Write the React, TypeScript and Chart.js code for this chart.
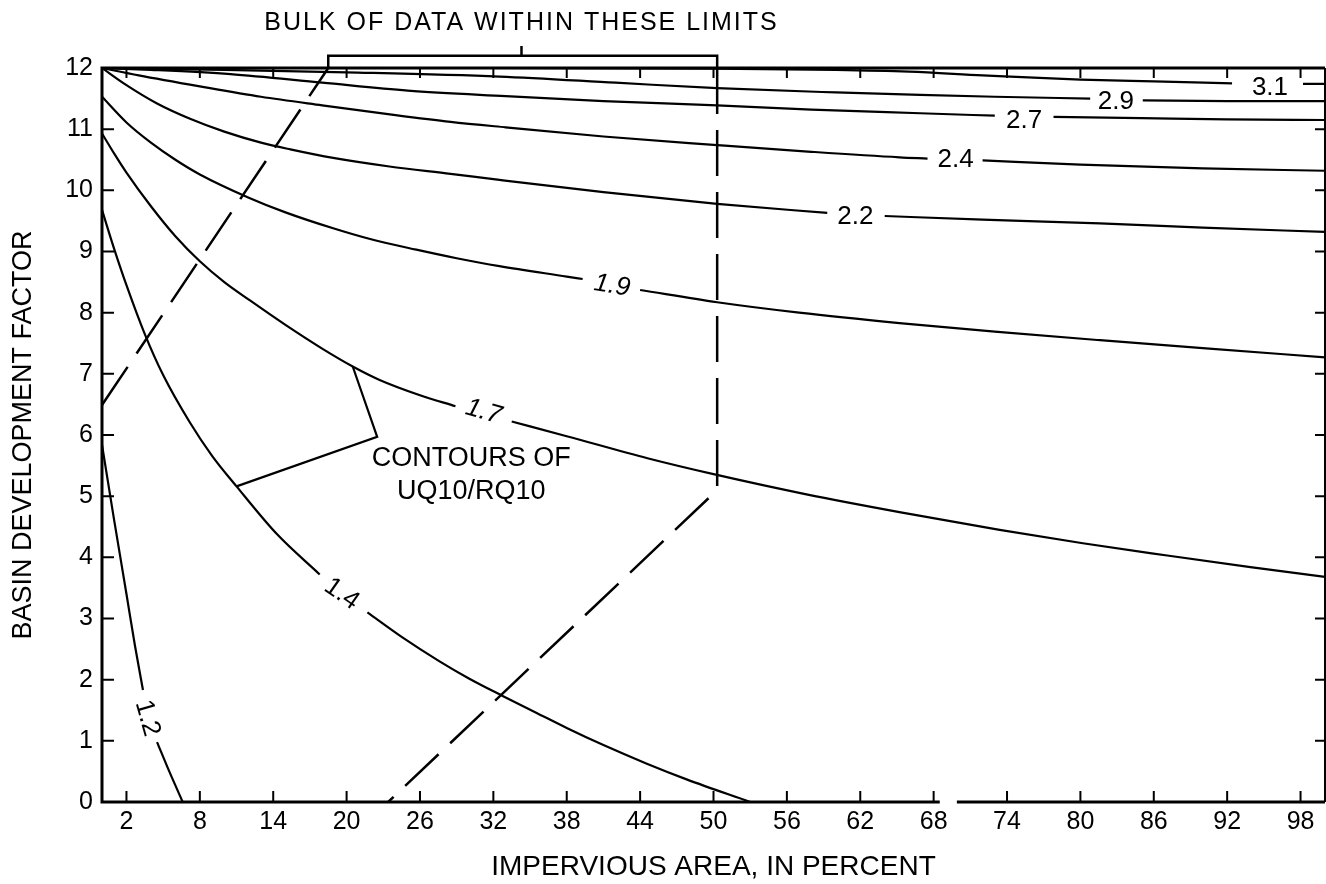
import React, { useEffect, useRef } from "react";
import { Chart, registerables } from "chart.js";

Chart.register(...registerables);

const FONT = '"Liberation Sans", Arial, Helvetica, sans-serif';

// Axis ticks
const xTickValues = [2, 8, 14, 20, 26, 32, 38, 44, 50, 56, 62, 68, 74, 80, 86, 92, 98];
const yTickValues = [0, 1, 2, 3, 4, 5, 6, 7, 8, 9, 10, 11, 12];
const xAxisBreak = [68.5, 69.9];

type Pt = [number, number | null];

// Contours of UQ10/RQ10 (x = impervious area %, y = basin development factor); null = label gap
const contour12: Pt[] = [[0, 5.84], [1, 4.6], [2, 3.4], [2.7, 2.55], [3.35, 1.83], [3.9, null], [4.5, 0.98], [5.5, 0.5], [6.6, 0]];
const contour14: Pt[] = [[0, 9.68], [1, 9.04], [2, 8.45], [3.5, 7.65], [5, 6.98], [7.2, 6.2], [9, 5.66], [11, 5.16], [14.3, 4.38], [17.8, 3.72], [19.7, null], [21.7, 3.1], [24.5, 2.7], [27.6, 2.3], [30, 2.02], [32.8, 1.73], [35.5, 1.46], [38, 1.21], [41, 0.93], [44.5, 0.63], [47.8, 0.37], [53, 0]];
const contour17: Pt[] = [[0, 10.93], [1, 10.6], [2, 10.29], [4, 9.74], [6, 9.25], [8, 8.84], [10, 8.5], [12.1, 8.2], [15, 7.8], [18.1, 7.4], [20.5, 7.12], [22.7, 6.9], [26, 6.65], [28.9, 6.47], [31.2, null], [33.5, 6.22], [38, 5.98], [44.6, 5.62], [50, 5.36], [57.6, 5.03], [65.2, 4.74], [73.4, 4.45], [80.2, 4.23], [87.1, 4.03], [93.9, 3.84], [100, 3.68]];
const contour19: Pt[] = [[0, 11.53], [2, 11.11], [4, 10.78], [6, 10.5], [8, 10.26], [12, 9.88], [15, 9.64], [18.9, 9.38], [22, 9.2], [25.7, 9.03], [29, 8.89], [32.5, 8.76], [38, 8.59], [39.3, 8.55], [41.7, null], [44, 8.37], [50.3, 8.17], [57, 8.0], [65.2, 7.83], [73, 7.69], [81.6, 7.55], [90, 7.42], [100, 7.27]];
const contour22: Pt[] = [[0, 12], [2, 11.72], [4.5, 11.42], [7.2, 11.17], [10, 10.96], [13, 10.78], [15.4, 10.67], [18.9, 10.53], [23.5, 10.39], [28.5, 10.27], [32.5, 10.17], [41, 9.97], [50.3, 9.78], [59.3, 9.63], [61.6, null], [64, 9.58], [72, 9.52], [81.6, 9.46], [90, 9.39], [100, 9.32]];
const contour24: Pt[] = [[0, 12], [3, 11.88], [8, 11.7], [13, 11.53], [18, 11.39], [24, 11.23], [28.5, 11.12], [33, 11.03], [41, 10.88], [50.3, 10.74], [58, 10.63], [65.2, 10.54], [67.5, 10.52], [69.8, null], [72, 10.49], [80, 10.42], [90, 10.36], [100, 10.32]];
const contour27: Pt[] = [[0, 12], [4, 11.97], [10.5, 11.9], [18, 11.76], [25, 11.63], [33, 11.54], [41, 11.46], [50.3, 11.39], [58, 11.32], [66.9, 11.26], [73, 11.22], [75.4, null], [77.8, 11.2], [85, 11.18], [92, 11.16], [100, 11.15]];
const contour29: Pt[] = [[0, 12], [10, 11.97], [20, 11.93], [32.5, 11.86], [42, 11.76], [50.3, 11.67], [60, 11.6], [66.9, 11.56], [73, 11.53], [80.8, 11.5], [82.9, null], [85.1, 11.47], [92, 11.46], [100, 11.46]];
const contour31: Pt[] = [[0, 12], [30, 12], [50, 11.99], [60, 11.97], [66, 11.94], [72, 11.88], [80, 11.81], [86, 11.78], [92.4, 11.75], [95.5, null], [98.2, 11.74], [100, 11.74]];

// Contour labels
const contourLevels = ["1.2", "1.4", "1.7", "1.9", "2.2", "2.4", "2.7", "2.9", "3.1"];
const labelX = [3.7, 19.6, 31.2, 41.7, 61.6, 69.8, 75.4, 82.9, 95.5];
const labelY = [1.37, 3.4, 6.38, 8.44, 9.56, 10.5, 11.13, 11.45, 11.68];
const labelAngle = [74, 35, 16, 9, 0, 0, 0, 0, 0];
const labelItalic = [false, false, true, true, false, false, false, false, false];

// "Bulk of data" limits
const bulkUpperLeft: Pt[] = [[0, 6.49], [18.5, 12]];
const bulkRight: Pt[] = [[50.3, 12], [50.3, 5.1], [23.4, 0]];
const bulkBracket: Pt[] = [[18.5, 12], [18.5, 12.2], [50.3, 12.2], [50.3, 12]];
const bulkBracketTick: Pt[] = [[34.3, 12.2], [34.3, 12.36]];
const bulkText = { x: 34.3, y: 12.73, text: "BULK OF DATA WITHIN THESE LIMITS" };

// Contour annotation and leader line
const leaderLine: Pt[] = [[20.5, 7.12], [22.5, 5.97], [11.0, 5.16]];
const contourNote = { x: 30.2, y: [5.62, 5.07], lines: ["CONTOURS OF", "UQ10/RQ10"] };

const toPts = (a: Pt[]) => a.map(([x, y]) => ({ x, y }));

export default function App() {
  const ref = useRef<HTMLCanvasElement>(null);

  useEffect(() => {
    document.body.style.margin = "0";
    const canvas = ref.current;
    if (!canvas) return;

    const curve = (d: Pt[]) => ({
      data: toPts(d),
      borderColor: "#000",
      borderWidth: 2.2,
      pointRadius: 0,
      cubicInterpolationMode: "monotone" as const,
      spanGaps: false,
      fill: false,
    });
    const straight = (d: Pt[], dash: number[], width: number) => ({
      data: toPts(d),
      borderColor: "#000",
      borderWidth: width,
      borderDash: dash,
      pointRadius: 0,
      tension: 0,
      fill: false,
      clip: false as const,
    });

    const framePlugin = {
      id: "frame",
      afterDatasetsDraw(chart: any) {
        const { ctx, chartArea: a, scales } = chart;
        const x = scales.x;
        const y = scales.y;
        ctx.save();
        ctx.strokeStyle = "#000";
        ctx.setLineDash([]);
        ctx.lineWidth = 2;
        ctx.beginPath();
        x.ticks.forEach((t: any) => {
          const px = x.getPixelForValue(t.value);
          ctx.moveTo(px, a.bottom);
          ctx.lineTo(px, a.bottom - 11);
          ctx.moveTo(px, a.top);
          ctx.lineTo(px, a.top + 10);
        });
        y.ticks.forEach((t: any) => {
          const py = y.getPixelForValue(t.value);
          ctx.moveTo(a.left, py);
          ctx.lineTo(a.left + 12, py);
          ctx.moveTo(a.right, py);
          ctx.lineTo(a.right - 10, py);
        });
        ctx.stroke();
        ctx.lineWidth = 3;
        ctx.beginPath();
        ctx.moveTo(a.left, a.bottom + 1.5);
        ctx.lineTo(a.left, a.top);
        ctx.lineTo(a.right, a.top);
        ctx.moveTo(a.left, a.bottom);
        ctx.lineTo(x.getPixelForValue(xAxisBreak[0]), a.bottom);
        ctx.moveTo(x.getPixelForValue(xAxisBreak[1]), a.bottom);
        ctx.lineTo(a.right, a.bottom);
        ctx.stroke();
        ctx.lineWidth = 2;
        ctx.beginPath();
        ctx.moveTo(a.right, a.top);
        ctx.lineTo(a.right, a.bottom);
        ctx.stroke();
        ctx.restore();
      },
    };

    const textPlugin = {
      id: "texts",
      afterDatasetsDraw(chart: any) {
        const { ctx, scales } = chart;
        const x = scales.x;
        const y = scales.y;
        ctx.save();
        ctx.fillStyle = "#000";
        ctx.textAlign = "center";
        ctx.textBaseline = "middle";
        contourLevels.forEach((lab, i) => {
          ctx.save();
          ctx.translate(x.getPixelForValue(labelX[i]), y.getPixelForValue(labelY[i]));
          ctx.rotate((labelAngle[i] * Math.PI) / 180);
          ctx.font = `${labelItalic[i] ? "italic " : ""}26px ${FONT}`;
          ctx.fillText(lab, 0, 0);
          ctx.restore();
        });
        ctx.font = `27px ${FONT}`;
        contourNote.lines.forEach((t, i) => {
          ctx.fillText(t, x.getPixelForValue(contourNote.x), y.getPixelForValue(contourNote.y[i]));
        });
        ctx.font = `25px ${FONT}`;
        (ctx as any).letterSpacing = "2px";
        ctx.fillText(bulkText.text, x.getPixelForValue(bulkText.x), y.getPixelForValue(bulkText.y));
        (ctx as any).letterSpacing = "0px";
        ctx.restore();
      },
    };

    const chart = new Chart(canvas, {
      type: "line",
      data: {
        datasets: [
          curve(contour12),
          curve(contour14),
          curve(contour17),
          curve(contour19),
          curve(contour22),
          curve(contour24),
          curve(contour27),
          curve(contour29),
          curve(contour31),
          straight(bulkUpperLeft, [46, 16], 2.5),
          straight(bulkRight, [46, 16], 2.5),
          straight(bulkBracket, [], 2.5),
          straight(bulkBracketTick, [], 2.5),
          straight(leaderLine, [], 2.2),
        ] as any,
      },
      options: {
        responsive: false,
        animation: false,
        devicePixelRatio: 1,
        layout: { padding: { top: 68, right: 1, left: 0, bottom: 0 } },
        plugins: {
          legend: { display: false },
          tooltip: { enabled: false },
        },
        elements: { point: { radius: 0 } },
        scales: {
          x: {
            type: "linear",
            min: 0,
            max: 100,
            grid: { display: false, drawTicks: false },
            border: { display: false },
            afterBuildTicks: (s: any) => {
              s.ticks = xTickValues.map((v) => ({ value: v }));
            },
            afterFit: (s: any) => {
              s.height = 82;
            },
            ticks: {
              font: { family: FONT, size: 25 },
              color: "#000",
              padding: 5,
              maxRotation: 0,
              autoSkip: false,
            },
            title: {
              display: true,
              text: "IMPERVIOUS AREA, IN PERCENT",
              font: { family: FONT, size: 28 },
              color: "#000",
              padding: { top: 0, bottom: 0 },
            },
          },
          y: {
            type: "linear",
            min: 0,
            max: 12,
            grid: { display: false, drawTicks: false },
            border: { display: false },
            afterBuildTicks: (s: any) => {
              s.ticks = yTickValues.map((v) => ({ value: v }));
            },
            afterFit: (s: any) => {
              s.width = 102;
            },
            ticks: {
              font: { family: FONT, size: 25 },
              color: "#000",
              padding: 9,
              autoSkip: false,
            },
            title: {
              display: true,
              text: "BASIN DEVELOPMENT FACTOR",
              font: { family: FONT, size: 27 },
              color: "#000",
              padding: { top: 7, bottom: 0 },
            },
          },
        },
      } as any,
      plugins: [framePlugin, textPlugin],
    });

    return () => chart.destroy();
  }, []);

  return (
    <div style={{ width: 1326, height: 884, background: "#fff" }}>
      <canvas ref={ref} width={1326} height={884} style={{ display: "block" }} />
    </div>
  );
}
